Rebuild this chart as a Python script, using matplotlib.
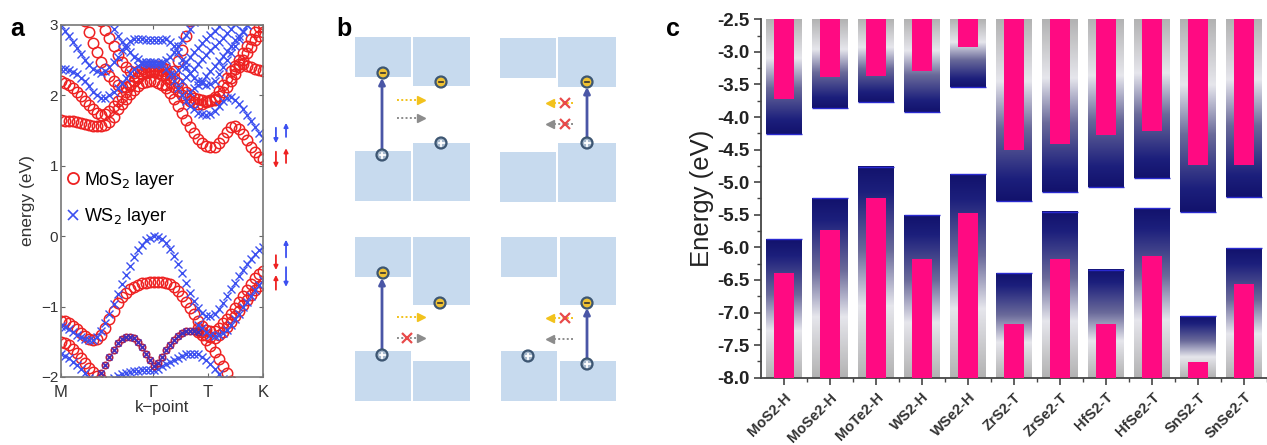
import numpy as np
import matplotlib
matplotlib.use('Agg')
import matplotlib.pyplot as plt
from matplotlib.colors import LinearSegmentedColormap
from matplotlib.patches import Rectangle, Circle

plt.rcParams['font.family'] = ['Liberation Sans', 'DejaVu Sans']
nan = np.nan

# ---------------- Panel a data: band energies (eV) on a k grid (step 0.02) ----------------
k_grid = [0.00, 0.02, 0.04, 0.06, 0.08, 0.10, 0.12, 0.14, 0.16, 0.18, 0.20, 0.22, 0.24, 0.26,
          0.28, 0.30, 0.32, 0.34, 0.36, 0.38, 0.40, 0.42, 0.44, 0.46, 0.48, 0.50, 0.52, 0.54,
          0.56, 0.58, 0.60, 0.62, 0.64, 0.66, 0.68, 0.70, 0.72, 0.74, 0.76, 0.78, 0.80, 0.82,
          0.84, 0.86, 0.88, 0.90, 0.92, 0.94, 0.96, 0.98, 1.00]
k_sym = [0.0, 0.455, 0.728, 1.0]
k_labels = ['M', 'Γ', 'T', 'K']
e_ticks = [-2, -1, 0, 1, 2, 3]
e_ticklabels = ['−2', '−1', '0', '1', '2', '3']

mos2_bands = [
    # valence
    [-1.20, -1.21, -1.24, -1.28, -1.32, -1.37, -1.42, -1.46, -1.48, -1.46, -1.40, -1.30, -1.18,
     -1.06, -0.95, -0.87, -0.80, -0.75, -0.72, -0.69, -0.67, -0.66, -0.65, -0.65, -0.65, -0.65,
     -0.66, -0.68, -0.72, -0.78, -0.85, -0.93, -1.02, -1.11, -1.20, -1.27, -1.33, -1.35, -1.34,
     -1.30, -1.24, -1.17, -1.10, -1.02, -0.93, -0.85, -0.76, -0.68, -0.60, -0.54, -0.50],
    [nan] * 34 + [-1.30, -1.36, -1.40, -1.43, -1.44, -1.41, -1.36, -1.29, -1.22, -1.14, -1.06,
                  -0.98, -0.90, -0.83, -0.77, -0.71, -0.66],
    [-1.50, -1.52, -1.55, -1.60, -1.66, -1.73, -1.80, -1.87, -1.93, -1.98, -2.03] + [nan] * 40,
    [nan] * 34 + [-1.36, -1.41, -1.48, -1.56, -1.65, -1.75, -1.85, -1.95, -2.05] + [nan] * 8,
    # conduction
    [1.65, 1.64, 1.63, 1.63, 1.62, 1.61, 1.60, 1.58, 1.57, 1.56, 1.56, 1.58, 1.62, 1.70, 1.80,
     1.88, 1.95, 2.02, 2.08, 2.13, 2.17, 2.19, 2.20, 2.20, 2.18, 2.15, 2.10, 2.03, 1.95, 1.85,
     1.75, 1.65, 1.55, 1.46, 1.38, 1.32, 1.28, 1.26, 1.27, 1.32, 1.40, 1.48, 1.55, 1.56, 1.52,
     1.45, 1.36, 1.27, 1.19, 1.13, 1.09],
    [2.20, 2.18, 2.15, 2.10, 2.05, 1.99, 1.92, 1.86, 1.80, 1.75, 1.72, 1.74, 1.78, 1.85, 1.92,
     1.98, 2.05, 2.13, 2.20, 2.26, 2.30, 2.32, 2.33, 2.33, 2.32, 2.29, 2.25, 2.19, 2.12, 2.06,
     2.00, 1.96, 1.92, 1.90, 1.88, 1.88, 1.90, 1.93, 1.98, 2.06, 2.15, 2.25, 2.35, 2.42, 2.45,
     2.44, 2.42, 2.40, 2.38, 2.36, 2.35],
    [nan] * 6 + [3.05, 2.90, 2.75, 2.61, 2.48, 2.37, 2.28, 2.21, 2.15, 2.12, 2.12, 2.15, 2.20,
                 2.25, 2.30, 2.34, 2.36, 2.37, 2.36, 2.34, 2.30] + [nan] * 24,
    [nan] * 10 + [3.05, 2.93, 2.82, 2.70, 2.58, 2.48, 2.40, 2.35, 2.32, 2.34, 2.38, 2.41, 2.42,
                  2.42, 2.42, 2.40, 2.38, 2.32, 2.25, 2.17, 2.10, 2.05, 2.00, 1.97, 1.95, 1.93,
                  1.92, 1.92, 1.93] + [nan] * 12,
    [nan] * 26 + [2.15, 2.24, 2.35, 2.49, 2.65, 2.84, 3.05] + [nan] * 18,
    [nan] * 38 + [1.95, 1.99, 2.05, 2.12, 2.20, 2.30, 2.40, 2.50, 2.60, 2.69, 2.78, 2.85, 2.90],
    [nan] * 42 + [2.25, 2.38, 2.50, 2.60, 2.70, 2.80, 2.90, 2.97, 3.02],
]
ws2_bands = [
    # valence
    [-1.27, -1.29, -1.32, -1.36, -1.40, -1.43, -1.46, -1.47, -1.47, -1.43, -1.35, -1.23, -1.10,
     -0.96, -0.82, -0.68, -0.55, -0.42, -0.30, -0.20, -0.12, -0.06, -0.02, 0.00, -0.01, -0.04,
     -0.10, -0.18, -0.28, -0.40, -0.52, -0.66, -0.80, -0.92, -1.02, -1.09, -1.13, -1.14, -1.10,
     -1.03, -0.95, -0.85, -0.75, -0.66, -0.57, -0.48, -0.40, -0.32, -0.25, -0.20, -0.15],
    [nan] * 34 + [-1.26, -1.31, -1.36, -1.40, -1.42, -1.41, -1.38, -1.33, -1.26, -1.18, -1.10,
                  -1.01, -0.93, -0.85, -0.77, -0.69, -0.62],
    [-1.68, -1.70, -1.73, -1.78, -1.83, -1.89, -1.95, -2.01, -2.06, nan, nan, nan,
     -2.05, -2.01, -1.98, -1.96, -1.95, -1.93, -1.92, -1.91, -1.90, -1.90, -1.90, -1.90, -1.88,
     -1.85, -1.82, -1.79, -1.76, -1.73, -1.70, -1.68, -1.67, -1.67, -1.68, -1.71, -1.76, -1.82,
     -1.89, -1.96, -2.03] + [nan] * 10,
    # conduction
    [2.38, 2.37, 2.36, 2.33, 2.30, 2.25, 2.20, 2.13, 2.05, 2.00, 1.97, 1.97, 2.00, 2.05, 2.10,
     2.17, 2.25, 2.32, 2.38, 2.42, 2.45, 2.47, 2.48, 2.48, 2.46, 2.43, 2.38, 2.30, 2.20, 2.10,
     2.00, 1.92, 1.85, 1.80, 1.75, 1.73, 1.72, 1.74, 1.78, 1.85, 1.92, 1.96, 1.98, 1.94, 1.88,
     1.80, 1.72, 1.63, 1.55, 1.47, 1.40],
    [3.00, 2.92, 2.85, 2.76, 2.68, 2.59, 2.50, 2.43, 2.38, 2.34, 2.32, 2.35, 2.40, 2.47, 2.55,
     2.64, 2.72, 2.77, 2.80, 2.80, 2.80, 2.79, 2.78, 2.78, 2.78, 2.79, 2.80, 2.76, 2.70, 2.61,
     2.50, 2.41, 2.32, 2.25, 2.20, 2.17, 2.15, 2.16, 2.20, 2.30, 2.40, 2.50, 2.60, 2.70, 2.80,
     2.90, 3.00, nan, nan, nan, nan],
    [nan] * 12 + [3.05, 2.95, 2.85, 2.76, 2.68, 2.61, 2.55, 2.51, 2.48, 2.46, 2.45, 2.45, 2.45,
                  2.47, 2.50, 2.55, 2.62, 2.70, 2.78, 2.86, 2.95, 3.04] + [nan] * 17,
    [nan] * 28 + [2.30, 2.36, 2.42, 2.48, 2.55, 2.62, 2.68, 2.74, 2.80, 2.86, 2.92, 2.98,
                  3.05] + [nan] * 10,
    [nan] * 30 + [2.20, 2.26, 2.32, 2.38, 2.45, 2.52, 2.58, 2.64, 2.70, 2.76, 2.82, 2.88, 2.95,
                  3.02] + [nan] * 7,
    [nan] * 32 + [2.05, 2.10, 2.15, 2.21, 2.28, 2.35, 2.42, 2.49, 2.56, 2.63, 2.70, 2.78, 2.85,
                  2.92, 3.00] + [nan] * 4,
]
mixed_band = [nan] * 10 + [-1.95, -1.83, -1.72, -1.61, -1.52, -1.46, -1.43, -1.43, -1.45,
                           -1.50, -1.58, -1.67, -1.76, -1.84, -1.80, -1.71, -1.62, -1.54,
                           -1.47, -1.42, -1.38, -1.35, -1.34, -1.34, -1.36] + [nan] * 16

# spin arrows at the right of panel a: (k, E_start, E_end, colour)
spin_arrows = [
    (1.064, 1.54, 1.32, 'blue'), (1.114, 1.41, 1.61, 'blue'),
    (1.064, 1.20, 0.97, 'red'), (1.114, 1.04, 1.25, 'red'),
    (1.114, -0.30, -0.05, 'blue'), (1.064, -0.27, -0.48, 'red'),
    (1.064, -0.76, -0.55, 'red'), (1.114, -0.44, -0.72, 'blue'),
]

# ---------------- Panel c data ----------------
materials = ['MoS2-H', 'MoSe2-H', 'MoTe2-H', 'WS2-H', 'WSe2-H', 'ZrS2-T', 'ZrSe2-T',
             'HfS2-T', 'HfSe2-T', 'SnS2-T', 'SnSe2-T']
cbm = [-4.26, -3.86, -3.77, -3.92, -3.54, -5.29, -5.15, -5.08, -4.93, -5.45, -5.22]
vbm = [-5.87, -5.24, -4.76, -5.51, -4.87, -6.39, -5.45, -6.34, -5.40, -7.06, -6.01]
cb_pink = [-3.72, -3.39, -3.37, -3.29, -2.93, -4.51, -4.42, -4.28, -4.21, -4.74, -4.74]
vb_pink = [-6.40, -5.74, -5.24, -6.18, -5.47, -7.18, -6.18, -7.17, -6.13, -7.76, -6.56]
e_top, e_bottom = -2.5, -8.0

W, H = 1267, 445
fig = plt.figure(figsize=(W / 100, H / 100), dpi=100)
fig.patch.set_facecolor('white')

# ================= Panel b (schematic, pixel coordinates) =================
axb = fig.add_axes([0, 0, 1, 1])
axb.set_xlim(0, W)
axb.set_ylim(H, 0)
axb.axis('off')

block_col = '#c7daee'
blocks = [
    (355, 37, 411, 77), (413, 37, 470, 86), (355, 151, 411, 201), (413, 143, 470, 201),
    (500, 38, 556, 78), (558, 37, 616, 87), (500, 152, 556, 202), (558, 143, 616, 202),
    (355, 237, 411, 277), (413, 237, 470, 305), (355, 351, 411, 401), (413, 361, 470, 401),
    (501, 237, 557, 277), (560, 237, 616, 305), (501, 351, 557, 401), (560, 361, 616, 401),
]
for x0, y0, x1, y1 in blocks:
    axb.add_patch(Rectangle((x0, y0), x1 - x0, y1 - y0, fc=block_col, ec='none'))

vert_arrows = [(382, 150, 78), (587, 138, 87), (382, 350, 278), (587, 359, 308)]
for x, y0, y1 in vert_arrows:
    axb.annotate('', xy=(x, y1), xytext=(x, y0),
                 arrowprops=dict(arrowstyle='-|>', color='#4a56a6', lw=2.0,
                                 mutation_scale=9, shrinkA=0, shrinkB=0))

dotted = [
    (397, 423, 100, '#f2c21c', None), (397, 423, 118, '#8c8c8c', None),
    (573, 548, 103, '#f2c21c', 565), (573, 548, 124, '#8c8c8c', 565),
    (397, 423, 317, '#f2c21c', None), (397, 423, 338, '#8c8c8c', 407),
    (573, 548, 318, '#f2c21c', 565), (573, 548, 339, '#8c8c8c', None),
]
for xs, xe, y, col, xx in dotted:
    d = 1 if xe > xs else -1
    axb.plot([xs, xe - d * 4], [y, y], color=col, lw=1.4, ls=(0, (1, 1.2)))
    axb.plot([xe - d * 2], [y], marker='>' if d > 0 else '<', color=col, ms=5.5, mec=col)
    if xx is not None:
        axb.plot([xx], [y], marker='x', color='#e84a4a', ms=6.5, mew=1.6)

electrons = [(383, 73), (441, 82), (587, 82), (383, 273), (440, 303), (587, 303)]
holes = [(382, 155), (441, 143), (587, 143), (382, 355), (528, 356), (587, 364)]
for x, y in electrons:
    axb.add_patch(Circle((x, y), 5.5, fc='#f0c232', ec='#3d5672', lw=1.6, zorder=5))
    axb.plot([x - 2.3, x + 2.3], [y, y], color='#333333', lw=1.2, zorder=6)
for x, y in holes:
    axb.add_patch(Circle((x, y), 5.5, fc='#a7b9cc', ec='#3d5672', lw=1.6, zorder=5))
    axb.plot([x - 2.5, x + 2.5], [y, y], color='white', lw=1.3, zorder=6)
    axb.plot([x, x], [y - 2.5, y + 2.5], color='white', lw=1.3, zorder=6)

fig.text(10 / W, 1 - 36 / H, 'a', fontsize=18, fontweight='bold')
fig.text(336 / W, 1 - 36 / H, 'b', fontsize=18, fontweight='bold')
fig.text(666 / W, 1 - 36 / H, 'c', fontsize=18, fontweight='bold')

# ================= Panel a =================
axa = fig.add_axes([61 / W, 1 - 377 / H, 202 / W, 352 / H])
red = '#ee2222'
blue = '#3c50f0'
for band in mos2_bands:
    axa.plot(k_grid, band, ls='none', marker='o', ms=7.5, mfc='none', mec=red, mew=1.1)
for band in ws2_bands:
    axa.plot(k_grid, band, ls='none', marker='x', ms=6, mec=blue, mew=1.0)
axa.plot(k_grid, mixed_band, ls='none', marker='o', ms=4.5, mfc='none', mec='#b0204a', mew=1.3)
axa.plot(k_grid, mixed_band, ls='none', marker='x', ms=4, mec='#4030c0', mew=1.0)

axa.set_xlim(0, 1)
axa.set_ylim(-2, 3)
axa.set_xticks(k_sym)
axa.set_xticklabels(k_labels, fontsize=12, color='#333333')
axa.set_yticks(e_ticks)
axa.set_yticklabels(e_ticklabels, fontsize=11, color='#333333')
axa.tick_params(direction='in', length=3, width=0.8, color='#666666', top=True, right=True, pad=2)
axa.tick_params(axis='x', pad=6)
for s in axa.spines.values():
    s.set_color('#777777')
    s.set_linewidth(1.2)
axa.set_xlabel('k−point', fontsize=12, color='#333333', labelpad=0)
axa.set_ylabel('energy (eV)', fontsize=12.5, color='#333333', labelpad=4)

h1, = axa.plot([], [], ls='none', marker='o', ms=8, mfc='none', mec=red, mew=1.3)
h2, = axa.plot([], [], ls='none', marker='x', ms=6.5, mec=blue, mew=1.2)
axa.legend([h1, h2], ['MoS$_2$ layer', 'WS$_2$ layer'], loc='upper left',
           bbox_to_anchor=(-0.03, 0.62), frameon=False, fontsize=13, handlelength=0.8,
           handletextpad=0.2, labelspacing=0.85, borderaxespad=0.2)

spin_col = {'blue': '#3c50f0', 'red': '#ee2222'}
for kx, e0, e1, c in spin_arrows:
    axa.annotate('', xy=(kx, e1), xytext=(kx, e0), annotation_clip=False,
                 arrowprops=dict(arrowstyle='-|>', color=spin_col[c], lw=1.3,
                                 mutation_scale=6, shrinkA=0, shrinkB=0))

# ================= Panel c =================
axc = fig.add_axes([761 / W, 1 - 377.7 / H, (W - 761) / W, 358.4 / H])
cmap = LinearSegmentedColormap.from_list(
    'band', [(0.0, '#12126c'), (0.12, '#1c1f7c'), (0.4, '#6a6a9a'), (0.66, '#e6e6ec'), (1.0, '#b2b2b2')])
grad = np.linspace(0, 1, 256).reshape(-1, 1)
bw, pw = 0.77, 0.43
xpos = np.arange(len(materials))
for i in xpos:
    axc.imshow(grad, extent=[i - bw / 2, i + bw / 2, cbm[i], e_top], origin='lower',
               cmap=cmap, aspect='auto', interpolation='bilinear', zorder=1)
    axc.imshow(grad, extent=[i - bw / 2, i + bw / 2, e_bottom, vbm[i]], origin='upper',
               cmap=cmap, aspect='auto', interpolation='bilinear', zorder=1)
axc.hlines(cbm, xpos - bw / 2, xpos + bw / 2, color='#2a2ad0', lw=1.0, zorder=2)
axc.hlines(vbm, xpos - bw / 2, xpos + bw / 2, color='#2a2ad0', lw=1.0, zorder=2)
pink = '#ff0a82'
axc.bar(xpos, np.array([e_top] * len(xpos)) - np.array(cb_pink), bottom=cb_pink, width=pw,
        color=pink, zorder=3)
axc.bar(xpos, np.array(vb_pink) - e_bottom, bottom=e_bottom, width=pw, color=pink, zorder=3)

axc.set_xlim(-0.5, (W - 784.5) / 46.65)
axc.set_ylim(e_bottom, e_top)
yt = np.arange(-8.0, -2.49, 0.5)
axc.set_yticks(yt)
axc.set_yticklabels([f'{v:.1f}' for v in yt], fontsize=13.5, fontweight='bold', color='#222222')
axc.set_yticks(np.arange(-8.0, -2.49, 0.25), minor=True)
axc.set_xticks(xpos)
axc.set_xticklabels(materials, rotation=45, ha='right', va='top', rotation_mode='anchor',
                    fontsize=10.5, fontweight='bold', color='#333333')
axc.set_xticks(xpos + 0.5, minor=True)
axc.tick_params(axis='both', which='major', direction='out', length=5, width=1.2, color='#444444')
axc.tick_params(axis='both', which='minor', direction='out', length=3, width=1.0, color='#444444')
axc.tick_params(axis='x', which='major', pad=4)
axc.spines['top'].set_visible(False)
axc.spines['right'].set_visible(False)
for s in ('left', 'bottom'):
    axc.spines[s].set_color('#444444')
    axc.spines[s].set_linewidth(1.3)
axc.set_ylabel('Energy (eV)', fontsize=18.5, color='#222222', labelpad=2)

fig.savefig('out.png', dpi=100, facecolor='white')
